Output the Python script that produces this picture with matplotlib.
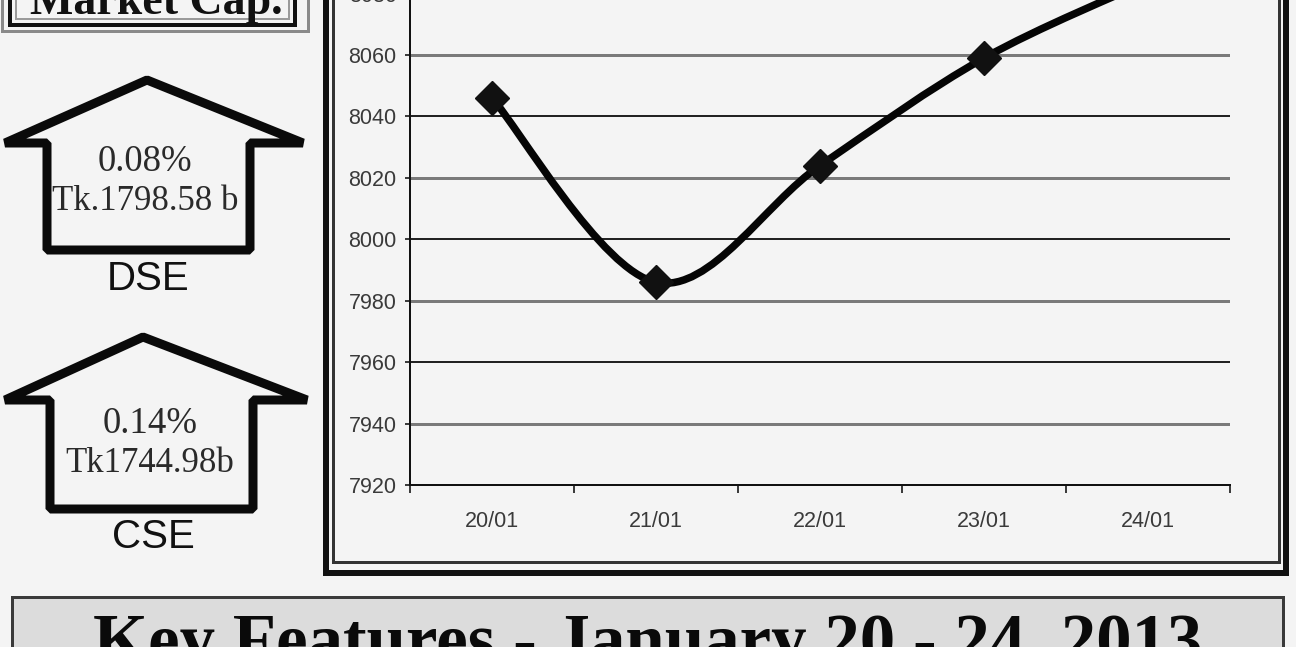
import matplotlib
matplotlib.use('Agg')
import matplotlib.pyplot as plt
import numpy as np
from matplotlib.path import Path
from matplotlib.patches import PathPatch, Polygon, Rectangle

W, H = 1296, 647

# data
dates = ['20/01', '21/01', '22/01', '23/01', '24/01']
dsex = [8046, 7986, 8024, 8059, 8084]
yticks = list(range(7920, 8081, 20))

dse_change, dse_cap = '0.08%', 'Tk.1798.58 b'
cse_change, cse_cap = '0.14%', 'Tk1744.98b'
title = 'Key Features - January 20 - 24, 2013'
box_label = 'Market Cap.'

PT = 0.72  # points per pixel at dpi 100
serif = ['Liberation Serif', 'DejaVu Serif']
sans = ['Liberation Sans', 'DejaVu Sans']


def smooth_path(xs, ys):
    # Catmull-Rom style bezier, close to the "smoothed line" of a spreadsheet
    pts = np.column_stack([xs, ys]).astype(float)
    ext = np.vstack([pts[0], pts, pts[-1]])
    verts = [pts[0]]
    codes = [Path.MOVETO]
    for i in range(len(pts) - 1):
        p0, p1, p2, p3 = ext[i], ext[i + 1], ext[i + 2], ext[i + 3]
        verts += [p1 + (p2 - p0) / 6, p2 - (p3 - p1) / 6, p2]
        codes += [Path.CURVE4] * 3
    return Path(verts, codes)


fig = plt.figure(figsize=(W / 100, H / 100), dpi=100, facecolor='#f4f4f4')

# background layer in pixel coordinates
bg = fig.add_axes([0, 0, 1, 1])
bg.set_xlim(0, W)
bg.set_ylim(H, 0)
bg.axis('off')
bg.patch.set_alpha(0)

# "Market Cap." box, cut at the top
bg.add_patch(Rectangle((2, -20), 306, 51, fill=False, ec='#8a8a8a', lw=3 * PT))
bg.add_patch(Rectangle((10, -20), 285, 45, fill=False, ec='#111111', lw=4 * PT))
bg.add_patch(Rectangle((16, -20), 273, 39, fill=False, ec='#9a9a9a', lw=2 * PT))
bg.text(156, 14, box_label, ha='center', va='baseline', fontsize=33,
        fontweight='bold', family=serif, color='#111111')

# chart frame
bg.add_patch(Rectangle((326, -20), 960, 593, fill=False, ec='#111111', lw=6 * PT))
bg.add_patch(Rectangle((333, -20), 946, 582, fill=False, ec='#333333', lw=3 * PT))

# arrows
for apex, base, y_tip, bottom, xs_in, texts in [
        ((147, 80), (5, 303), 143, 250, (47, 250), (dse_change, dse_cap, 'DSE', 145, 162, 202, 279)),
        ((143, 337), (5, 307), 400, 509, (50, 253), (cse_change, cse_cap, 'CSE', 150, 424, 464, 537))]:
    shape = [apex, (base[1], y_tip), (xs_in[1], y_tip), (xs_in[1], bottom),
             (xs_in[0], bottom), (xs_in[0], y_tip), (base[0], y_tip)]
    bg.add_patch(Polygon(shape, closed=True, fill=False, ec='#0a0a0a',
                         lw=9 * PT, joinstyle='bevel'))
    t1, t2, t3, cx, y1, y2, y3 = texts
    bg.text(cx, y1, t1, ha='center', va='center', fontsize=26.5, family=serif, color='#2a2a2a')
    bg.text(cx, y2, t2, ha='center', va='center', fontsize=25, family=serif, color='#2a2a2a')
    bg.text(cx + 3, y3, t3, ha='center', va='center', fontsize=29, family=sans, color='#111111')

# bottom banner
bg.add_patch(Rectangle((12, 597), 1271, 80, fc='#dcdcdc', ec='#3a3a3a', lw=3 * PT))
bg.text(648, 663, title, ha='center', va='baseline', fontsize=51,
        fontweight='bold', family=serif, color='#0a0a0a')

# chart axes
px_per_unit = 430 / 140
y_lo, y_hi = 7920, 8100
ax_h = (y_hi - y_lo) * px_per_unit
ax = fig.add_axes([410 / W, (H - 485) / H, 820 / W, ax_h / H])
ax.patch.set_alpha(0)
x = np.arange(len(dates))
ax.set_xlim(-0.5, len(dates) - 0.5)
ax.set_ylim(y_lo, y_hi)

ax.set_yticks(yticks)
ax.set_yticklabels([str(v) for v in yticks])
ax.set_xticks(np.arange(-0.5, len(dates), 1))
ax.set_xticklabels([])
ax.set_xticks(x, minor=True)
ax.set_xticklabels(dates, minor=True)

ax.tick_params(axis='y', direction='out', length=5 * PT, width=1.5 * PT, pad=6,
               labelsize=15.5, labelcolor='#3a3a3a')
ax.tick_params(axis='x', which='major', direction='out', length=8 * PT, width=1.5 * PT)
ax.tick_params(axis='x', which='minor', length=0, pad=19, labelsize=15.5, labelcolor='#3a3a3a')
for lab in ax.get_xticklabels(minor=True) + ax.get_yticklabels():
    lab.set_family(sans)

for s in ['top', 'right']:
    ax.spines[s].set_visible(False)
for s in ['left', 'bottom']:
    ax.spines[s].set_color('#111111')
    ax.spines[s].set_linewidth(2 * PT)

for v in yticks[1:]:
    odd = ((v - y_lo) // 20) % 2 == 1
    ax.axhline(v, color='#7a7a7a' if odd else '#222222', lw=(3 if odd else 2) * PT, zorder=1)

ax.add_patch(PathPatch(smooth_path(x, dsex), fill=False, ec='#050505',
                       lw=7.5 * PT, capstyle='round', zorder=3))
ax.plot(x, dsex, 'D', ms=17, color='#111111', zorder=4, clip_on=False)

fig.savefig('out.png', dpi=100, facecolor=fig.get_facecolor())
